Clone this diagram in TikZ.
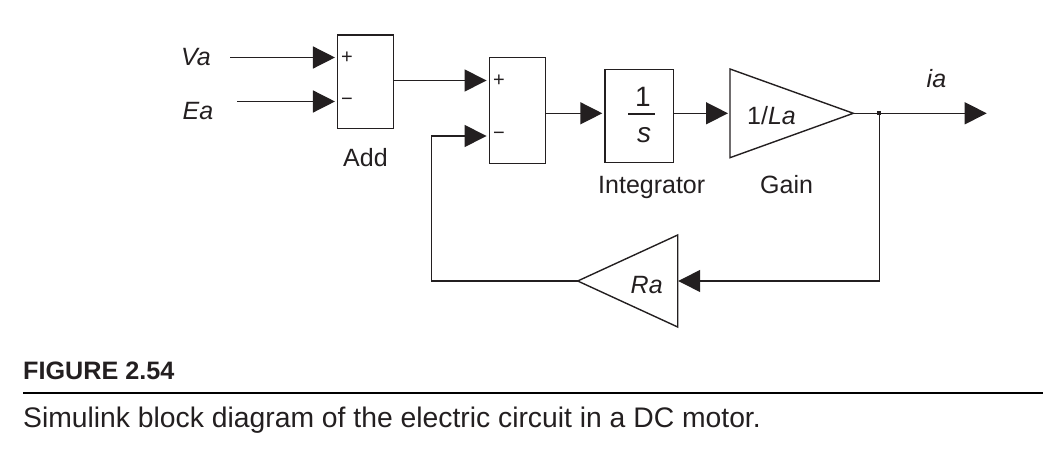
\documentclass[tikz,border=0pt]{standalone}
\usepackage{fontspec}
\setmainfont{Liberation Sans}
\usetikzlibrary{arrows.meta}
\definecolor{ink}{HTML}{231F20}
\begin{document}
\begin{tikzpicture}[x=1pt,y=-1pt,color=ink,
  blk/.style={draw, line width=1.5pt, inner sep=0pt},
  wire/.style={line width=1.4pt},
  sig/.style={wire, -{Triangle[length=22pt,width=22pt]}, shorten >=2pt},
  lbl/.style={font=\fontsize{25}{29}\selectfont, inner sep=0pt, anchor=base west},
  sgn/.style={font=\fontsize{20}{24}\selectfont, inner sep=0pt, anchor=west}]
\useasboundingbox (0,0) rectangle (1043,462);

% blocks
\node[blk, minimum width=55.6pt, minimum height=93.3pt] (add) at (365.5,81.7) {};
\node[blk, minimum width=56.4pt, minimum height=105.6pt] (sum) at (517.5,110.5) {};
\node[blk, minimum width=68.3pt, minimum height=93.4pt] (int) at (639.2,116) {};

% port rows
\coordinate (va) at (230,57.5);
\coordinate (ea) at (237,101.5);
\coordinate (row1) at (0,80.5);
\coordinate (row2) at (0,136);
\coordinate (row3) at (0,113.3);
\coordinate (fbx) at (431.7,0);

% signs
\node[sgn] (p1) at (341,57.5) {+};
\node[sgn] (m1) at (341,101.5) {\char"2212};
\node[sgn] (p2) at (493,80.5) {+};
\node[sgn] (m2) at (493,136) {\char"2212};

% integrator content
\node[inner sep=0pt, anchor=base, font=\fontsize{28}{32}\selectfont] (one) at (643,106.5) {1};
\draw[wire] (628.3,114) -- (655,114);
\node[inner sep=0pt, anchor=base, font=\fontsize{28}{32}\selectfont\itshape] (s) at (644,143) {s};

% gain
\coordinate (gin) at (730,113.3);
\coordinate (gout) at (853.3,113.3);
\draw[wire, line join=miter] (730,69) -- (gout) -- (730,157.7) -- cycle;
\node[lbl] (gtxt) at (747,125) {1/\textit{La}};

% Ra
\coordinate (rain) at (677.7,281);
\coordinate (raout) at (577.7,281);
\draw[wire, line join=miter] (677.7,235) -- (raout) -- (677.7,327) -- cycle;
\node[lbl] (ratxt) at (630.5,293) {\textit{Ra}};

% branch point and output
\node[fill, minimum size=4pt, inner sep=0pt] (br) at (879.3,113.3) {};
\coordinate (out) at (988.7,113.3);

% connectors
\draw[sig] (va) -- (va -| add.west);
\draw[sig] (ea) -- (ea -| add.west);
\draw[sig] (add.east |- row1) -- (sum.west |- row1);
\draw[sig] (sum.east |- row3) -- (int.west |- row3);
\draw[sig] (int.east |- row3) -- (gin);
\draw[sig] (gout) -- (out);
\draw[sig, shorten >=0.5pt] (br.center) -- (br.center |- rain) -- (rain);
\draw[sig] (raout) -- (fbx |- raout) -- (fbx |- row2) -- (sum.west |- row2);

% labels
\node[lbl] (tva) at (181,66) {\textit{Va}};
\node[lbl] (tea) at (182.5,120) {\textit{Ea}};
\node[lbl] (tadd) at (343,166.5) {Add};
\node[lbl] (tint) at (598,193.3) {Integrator};
\node[lbl] (tgain) at (760,193.3) {Gain};
\node[lbl] (tia) at (926.5,88) {\textit{ia}};

% caption
\node[inner sep=0pt, anchor=base west, font=\bfseries\fontsize{25.2}{29}\selectfont] (fig) at (23,379.5) {FIGURE 2.54};
\coordinate (rl) at (23,392.7);
\coordinate (rr) at (1043,392.7);
\draw[line width=2.4pt, color=black] (rl) -- (rr);
\node[inner sep=0pt, anchor=base west, font=\fontsize{28.3}{32}\selectfont] (cap) at (23,427.5) {Simulink block diagram of the electric circuit in a DC motor.};
\end{tikzpicture}
\end{document}
